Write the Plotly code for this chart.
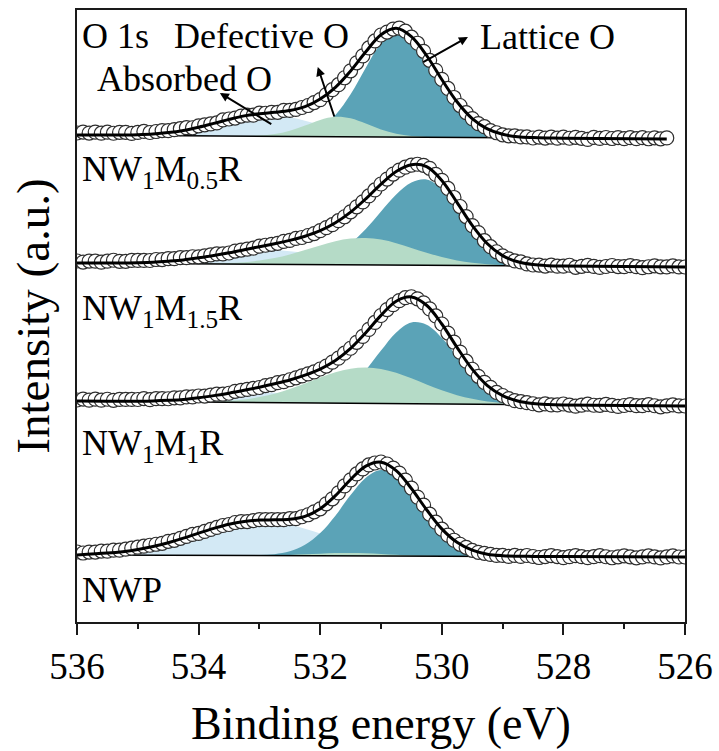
import numpy as np
import plotly.graph_objects as go

FONT = "'Liberation Serif', 'Times New Roman', Times, serif"

# ---------------- data ----------------
sample_names = ["NW<sub>1</sub>M<sub>0.5</sub>R", "NW<sub>1</sub>M<sub>1.5</sub>R",
                "NW<sub>1</sub>M<sub>1</sub>R", "NWP"]
data_start = [536.0, 536.0, 536.0, 536.0]
data_end = [526.3, 526.0, 526.0, 526.0]
# linear background (a.u., stacked) at 536 eV and at 526 eV
background_536 = [487, 359, 221, 67]
background_526 = [483, 355, 216, 65]

# background-subtracted measured intensity, 0.1 eV steps from 536.0 eV downwards
counts_nw1m05r = [2, 3, 2, 3, 2, 3, 2, 3, 3, 2,
                  3, 4, 3, 4, 5, 5, 6, 7, 8, 8,
                  10, 11, 12, 13, 16, 17, 18, 20, 21, 21,
                  23, 23, 24, 24, 26, 26, 27, 29, 31, 34,
                  37, 42, 47, 52, 59, 66, 74, 81, 89, 96,
                  102, 105, 108, 109, 106, 100, 94, 86, 77, 67,
                  58, 49, 40, 32, 25, 19, 14, 11, 7, 5,
                  3, 2, 2, 1, 1, 0, 1, 0, 1, 0,
                  1, 0, 1, 0, -1, 1, 0, 1, 0, 1,
                  0, 1, 0, 1, 0, 1, 0, 1]
counts_nw1m15r = [2, 1, 2, 2, 1, 2, 3, 2, 2, 3,
                  3, 3, 3, 4, 4, 5, 5, 6, 6, 7,
                  7, 8, 9, 10, 10, 11, 13, 14, 15, 16,
                  18, 19, 20, 21, 23, 24, 26, 27, 29, 31,
                  34, 37, 40, 44, 48, 53, 58, 63, 69, 75,
                  81, 86, 91, 95, 98, 100, 101, 100, 97, 91,
                  85, 77, 68, 59, 49, 40, 33, 25, 19, 14,
                  10, 7, 5, 4, 2, 1, 1, 0, 1, 0,
                  0, 1, -1, 0, 1, 0, -1, 0, 1, 0,
                  0, 1, 0, -1, 0, 1, 0, 0, 1, 0,
                  0]
counts_nw1m1r = [1, 2, 1, 2, 1, 2, 1, 2, 2, 2,
                 2, 3, 2, 3, 3, 3, 4, 4, 5, 5,
                 6, 6, 7, 8, 8, 9, 11, 12, 13, 14,
                 15, 17, 18, 20, 21, 23, 25, 27, 29, 31,
                 34, 37, 41, 45, 50, 55, 61, 67, 74, 81,
                 88, 94, 99, 103, 106, 107, 105, 101, 95, 88,
                 80, 71, 62, 52, 43, 35, 28, 22, 17, 12,
                 9, 6, 4, 3, 2, 1, 0, 1, 0, 0,
                 1, 0, -1, 0, 1, 0, 0, 1, 0, -1,
                 0, 1, 0, 0, 1, 0, -1, 0, 1, 0,
                 0]
counts_nwp = [3, 2, 3, 3, 4, 4, 5, 5, 6, 7,
              8, 9, 10, 11, 12, 14, 15, 17, 19, 21,
              22, 24, 26, 28, 30, 31, 33, 34, 34, 35,
              36, 36, 36, 36, 36, 37, 37, 39, 41, 44,
              47, 52, 57, 63, 70, 76, 82, 87, 91, 93,
              94, 92, 88, 83, 76, 68, 59, 51, 42, 34,
              27, 21, 16, 12, 9, 6, 4, 3, 2, 1,
              1, 0, 1, 0, 1, 0, -1, 0, 1, 0,
              -1, 0, 1, 0, -1, 0, 1, 0, -1, 0,
              1, 0, -1, 0, 1, 0, -1, 0, 1, 0,
              0]

# fitted components, 0.25 eV steps from 535.5 eV to 528.0 eV
absorbed_nw1m05r = [0.1, 0.3, 0.7, 1.5, 3.0, 5.3, 8.6, 12.5, 16.6, 20.0, 21.8, 21.6, 19.4, 15.8,
                    11.7, 7.8, 4.8, 2.6, 1.3, 0.6, 0.2, 0, 0, 0, 0, 0, 0, 0, 0, 0, 0]
defective_nw1m05r = [0, 0, 0, 0, 0, 0, 0, 0, 0, 0.2, 0.7, 2.2, 5.6, 10.9, 16.7, 19.9, 18.5, 13.3,
                     7.5, 3.3, 1.1, 0.3, 0, 0, 0, 0, 0, 0, 0, 0, 0]
lattice_nw1m05r = [0, 0, 0, 0, 0, 0, 0, 0, 0, 0, 0, 0.2, 0.9, 3.2, 9.2, 21.7, 42.5, 69.2, 93.5,
                   104.9, 99.3, 81.5, 57.9, 35.7, 19.0, 8.8, 3.5, 1.2, 0.4, 0.1, 0]

absorbed_nw1m15r = [0.2, 0.3, 0.7, 1.3, 2.4, 3.8, 5.8, 8.0, 10.3, 12.4, 13.7, 14.0, 13.2, 11.6,
                    9.4, 7.1, 4.9, 3.2, 1.9, 1.0, 0.5, 0.3, 0.1, 0, 0, 0, 0, 0, 0, 0, 0]
defective_nw1m15r = [0, 0, 0, 0, 0, 0, 0.2, 0.4, 0.9, 1.9, 3.7, 6.3, 10.0, 14.5, 19.2, 23.5, 26.3,
                     26.9, 25.4, 21.9, 17.3, 12.6, 8.4, 5.1, 2.9, 1.5, 0.7, 0.3, 0.1, 0, 0]
lattice_nw1m15r = [0, 0, 0, 0, 0, 0, 0, 0, 0, 0, 0.1, 0.3, 0.8, 2.2, 5.3, 11.3, 21.5, 36.0, 53.6,
                   70.7, 82.7, 85.7, 76.5, 58.0, 37.4, 20.5, 9.5, 3.8, 1.3, 0.4, 0.1]

absorbed_nw1m1r = [0.0, 0.1, 0.3, 0.7, 1.4, 2.4, 3.9, 5.7, 7.5, 9.1, 9.9, 9.8, 8.8, 7.2, 5.3, 3.5,
                   2.2, 1.2, 0.6, 0.3, 0.1, 0, 0, 0, 0, 0, 0, 0, 0, 0, 0]
defective_nw1m1r = [0, 0, 0, 0, 0, 0, 0.3, 0.8, 1.6, 3.0, 5.4, 9.0, 13.7, 19.4, 25.4, 30.9, 34.6,
                    36.0, 34.6, 30.9, 25.4, 19.4, 13.7, 9.0, 5.4, 3.0, 1.6, 0.8, 0.3, 0.1, 0]
lattice_nw1m1r = [0, 0, 0, 0, 0, 0, 0, 0, 0, 0, 0, 0.1, 0.3, 1.1, 3.2, 8.2, 18.0, 33.5, 52.9,
                  71.2, 81.3, 79.2, 66.3, 47.8, 29.7, 15.8, 7.3, 2.9, 1.0, 0.3, 0.1]

absorbed_nwp = [2.0, 3.5, 5.7, 8.7, 12.6, 17.2, 22.3, 27.1, 31.3, 34.0, 35.0, 34.0, 31.3, 27.1,
                22.3, 17.2, 12.6, 8.7, 5.7, 3.5, 2.0, 1.2, 0.6, 0.3, 0.1, 0, 0, 0, 0, 0, 0]
defective_nwp = [0, 0, 0, 0, 0, 0, 0, 0, 0, 0, 0, 0.3, 0.7, 1.4, 2.1, 2.8, 3.0, 2.8, 2.1, 1.4,
                 0.7, 0.3, 0, 0, 0, 0, 0, 0, 0, 0, 0]
lattice_nwp = [0, 0, 0, 0, 0, 0, 0, 0, 0, 0, 0.5, 1.5, 4.4, 10.9, 22.7, 40.2, 60.8, 78.3, 86.0,
               80.6, 64.9, 44.9, 26.7, 13.6, 6.0, 2.2, 0.7, 0.2, 0.1, 0, 0]

tick_values = [536, 534, 532, 530, 528, 526]
tick_labels = ["536", "534", "532", "530", "528", "526"]
minor_tick_values = [535, 533, 531, 529, 527]

counts = [counts_nw1m05r, counts_nw1m15r, counts_nw1m1r, counts_nwp]
absorbed = [absorbed_nw1m05r, absorbed_nw1m15r, absorbed_nw1m1r, absorbed_nwp]
defective = [defective_nw1m05r, defective_nw1m15r, defective_nw1m1r, defective_nwp]
lattice = [lattice_nw1m05r, lattice_nw1m15r, lattice_nw1m1r, lattice_nwp]

comp_energy = np.round(np.arange(535.5, 527.99, -0.25), 2)

C_ABS = "#d3e9f5"
C_DEF = "#b5dbc7"
C_LAT = "#5ba3b7"
AX = "#1a1a1a"

fig = go.Figure()

for i in range(4):
    e_data = np.round(np.arange(data_start[i], data_end[i] - 0.05, -0.1), 1)
    y_meas = np.asarray(counts[i], dtype=float)
    assert len(e_data) == len(y_meas), (i, len(e_data), len(y_meas))

    def bg(e, i=i):
        return np.interp(e, [526.0, 536.0], [background_526[i], background_536[i]])

    bg_comp = bg(comp_energy)
    # components filled from the background; order: absorbed, lattice, defective
    for comp, col in ((absorbed[i], C_ABS), (lattice[i], C_LAT), (defective[i], C_DEF)):
        comp = np.asarray(comp, dtype=float)
        fig.add_trace(go.Scatter(x=comp_energy, y=bg_comp, mode="lines",
                                 line=dict(width=0, color=col), hoverinfo="skip",
                                 showlegend=False))
        fig.add_trace(go.Scatter(x=comp_energy, y=bg_comp + comp, mode="lines",
                                 line=dict(width=0, color=col, shape="spline"),
                                 fill="tonexty", fillcolor=col, hoverinfo="skip",
                                 showlegend=False))
    # background line
    fig.add_trace(go.Scatter(x=[e_data[0], e_data[-1]], y=bg(np.array([e_data[0], e_data[-1]])),
                             mode="lines", line=dict(color="black", width=1.5),
                             hoverinfo="skip", showlegend=False))
    # measured data
    fig.add_trace(go.Scatter(x=e_data, y=bg(e_data) + y_meas, mode="markers",
                             marker=dict(symbol="circle", size=14, color="white",
                                         line=dict(color="#2e2e2e", width=1.2)),
                             name=sample_names[i], showlegend=False))
    # envelope (sum of components + background)
    total = (np.asarray(absorbed[i], float) + np.asarray(defective[i], float)
             + np.asarray(lattice[i], float))
    fx = np.concatenate([[data_start[i]], comp_energy, [data_end[i]]])
    fy = bg(fx) + np.concatenate([[0.0], total, [0.0]])
    fig.add_trace(go.Scatter(x=fx, y=fy, mode="lines",
                             line=dict(color="black", width=3, shape="spline"),
                             hoverinfo="skip", showlegend=False))

ann_font = dict(family=FONT, size=36, color="black")
annotations = []
texts = [("O 1s", 535.95, 586), ("Defective O", 534.44, 586), ("Absorbed O", 535.70, 543),
         ("Lattice O", 529.40, 585),
         (sample_names[0], 535.95, 451), (sample_names[1], 535.95, 312),
         (sample_names[2], 535.95, 177), (sample_names[3], 535.95, 32)]
for t, x, y in texts:
    annotations.append(dict(text=t, x=x, y=y, xref="x", yref="y", xanchor="left",
                            yanchor="middle", showarrow=False, font=ann_font))
arrows = [((533.65, 529), (532.78, 497)),
          ((532.04, 555), (531.76, 504)),
          ((529.57, 585), (530.33, 559))]
for (hx, hy), (tx, ty) in arrows:
    annotations.append(dict(text="", x=hx, y=hy, ax=tx, ay=ty, xref="x", yref="y",
                            axref="x", ayref="y", showarrow=True, arrowhead=2,
                            arrowsize=0.9, arrowwidth=2, arrowcolor="black", standoff=0))

fig.update_layout(
    width=719, height=751,
    margin=dict(l=77, r=34, t=10, b=129),
    paper_bgcolor="white", plot_bgcolor="white",
    font=dict(family=FONT, color="black"),
    annotations=annotations,
    xaxis=dict(range=[536, 526], tickmode="array", tickvals=tick_values, ticktext=tick_labels,
               ticks="outside", ticklen=11, tickwidth=2, tickcolor=AX,
               showline=True, linewidth=2, linecolor=AX, mirror=True,
               showgrid=False, zeroline=False,
               tickfont=dict(family=FONT, size=37, color="black"),
               minor=dict(tickvals=minor_tick_values, ticks="outside", ticklen=5,
                          tickwidth=2, tickcolor=AX, showgrid=False),
               title=dict(text="Binding energy (eV)",
                          font=dict(family=FONT, size=46, color="black"), standoff=20),
               automargin=False),
    yaxis=dict(range=[0, 612], showticklabels=False, ticks="",
               showline=True, linewidth=2, linecolor=AX, mirror=True,
               showgrid=False, zeroline=False,
               title=dict(text="Intensity (a.u.)",
                          font=dict(family=FONT, size=47, color="black"), standoff=11),
               automargin=False),
)

fig.write_html("out.html")
